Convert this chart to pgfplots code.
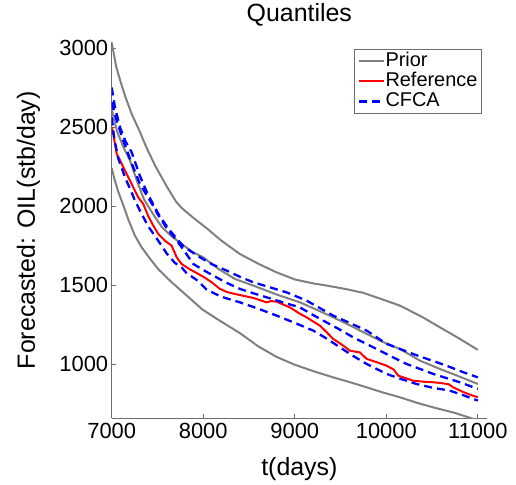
\documentclass[border=0pt]{standalone}
\usepackage{pgfplots}
\pgfplotsset{compat=1.18}
\usepackage{fontspec}
\setmainfont{Liberation Sans}
\definecolor{pgray}{RGB}{128,128,128}
\definecolor{axgray}{RGB}{110,110,110}
\begin{document}
\begin{tikzpicture}
\begin{axis}[
  name=ax,
  scale only axis,
  width=375.3bp, height=375.8bp,
  xmin=7000, xmax=11100,
  ymin=657, ymax=3036,
  axis lines=left,
  axis line style={-, draw=axgray, line width=0.8bp},
  tick align=inside,
  major tick length=4bp,
  tick style={draw=axgray, line width=0.8bp},
  xtick={7000,8000,9000,10000,11000},
  ytick={1000,1500,2000,2500,3000},
  /pgf/number format/assume math mode=true,
  scaled ticks=false,
  xticklabel style={font=\fontsize{22}{22}\selectfont, /pgf/number format/1000 sep={}, yshift=-1.5bp},
  yticklabel style={font=\fontsize{22}{22}\selectfont, /pgf/number format/1000 sep={}},
  title={Quantiles},
  title style={at={(axis description cs:0.5,1.0399)}, anchor=base, font=\fontsize{25}{25}\selectfont},
  xlabel={t(days)},
  xlabel style={at={(axis description cs:0.5,-0.153)}, anchor=base, font=\fontsize{25}{25}\selectfont},
  ylabel={Forecasted: OIL(stb/day)},
  ylabel style={at={(axis description cs:-0.2044,0.5)}, anchor=base, rotate=0, font=\fontsize{25}{25}\selectfont},
  legend style={at={(axis description cs:0.986,0.982)}, anchor=north east,
    draw=axgray, line width=0.6bp, font=\fontsize{20}{20}\selectfont,
    inner xsep=3.5bp, inner ysep=2bp, row sep=0pt,
    nodes={inner sep=0.5bp, text height=14.5bp, text depth=4.5bp}},
  legend cell align=left,
  legend image code/.code={\draw[#1] (0bp,0bp) -- (25bp,0bp);},
]
% Prior (P90, P50, P10)
\addplot[pgray, line width=2bp] coordinates {
(7000,3035) (7050,2880) (7100,2780) (7150,2690) (7220,2580) (7300,2480) (7380,2370) (7475,2255) (7600,2125) (7700,2030) (7760,1990) (7850,1945) (7930,1908) (8050,1853) (8200,1780) (8400,1696) (8600,1635) (8800,1580) (9000,1535) (9200,1510) (9350,1496) (9550,1475) (9750,1450) (9950,1410) (10150,1369) (10400,1295) (10585,1232) (10800,1160) (11000,1089)
};
\addlegendentry{Prior}
\addplot[pgray, line width=2bp, forget plot] coordinates {
(7000,2620) (7020,2560) (7060,2470) (7130,2370) (7200,2287) (7275,2160) (7350,2045) (7450,1950) (7550,1865) (7650,1810) (7764,1760) (7880,1710) (8000,1675) (8170,1600) (8346,1538) (8547,1496) (8800,1440) (9056,1390) (9250,1340) (9420,1295) (9600,1245) (9785,1190) (9960,1140) (10148,1095) (10367,1021) (10600,965) (10800,920) (11000,873)
};
\addplot[pgray, line width=2bp, forget plot] coordinates {
(7000,2240) (7030,2170) (7072,2090) (7130,2000) (7181,1915) (7254,1812) (7328,1738) (7420,1665) (7509,1600) (7650,1520) (7800,1443) (7990,1345) (8150,1285) (8401,1195) (8600,1112) (8800,1045) (9000,995) (9200,955) (9420,915) (9600,885) (9785,852) (9960,820) (10148,789) (10330,755) (10512,725) (10750,690) (10950,652) (11000,645)
};
% Reference
\addplot[red, line width=2bp] coordinates {
(7000,2500) (7017,2456) (7055,2329) (7091,2290) (7127,2245) (7218,2139) (7290,2055) (7345,2013) (7400,1935) (7450,1880) (7509,1823) (7582,1780) (7655,1749) (7710,1675) (7764,1633) (7850,1600) (7946,1570) (8020,1545) (8092,1517) (8183,1475) (8260,1455) (8346,1443) (8450,1430) (8547,1418) (8692,1390) (8740,1398) (8802,1394) (8947,1358) (9050,1320) (9129,1295) (9275,1242) (9350,1200) (9420,1158) (9520,1120) (9602,1084) (9711,1073) (9785,1032) (9900,1010) (10003,989) (10080,965) (10130,926) (10293,894) (10400,888) (10512,884) (10580,880) (10621,877) (10680,872) (10730,852) (10850,820) (10912,806) (11000,789)
};
\addlegendentry{Reference}
% CFCA (P90, P50, P10)
\addplot[blue, line width=2.3bp, dash pattern=on 8bp off 5bp] coordinates {
(7000,2750) (7036,2624) (7091,2498) (7150,2410) (7218,2340) (7309,2190) (7382,2090) (7454,2010) (7530,1930) (7637,1844) (7782,1745) (7964,1675) (8100,1630) (8256,1591) (8400,1552) (8547,1517) (8730,1485) (8911,1453) (9129,1401) (9270,1355) (9420,1306) (9600,1260) (9785,1211) (10003,1127) (10150,1095) (10293,1063) (10480,1025) (10658,989) (10830,950) (11000,915)
};
\addlegendentry{CFCA}
\addplot[blue, line width=2.3bp, dash pattern=on 8bp off 5bp, forget plot] coordinates {
(7000,2656) (7055,2540) (7127,2413) (7180,2330) (7236,2245) (7309,2139) (7380,2070) (7454,2000) (7500,1950) (7600,1860) (7700,1790) (7800,1710) (7891,1633) (8000,1595) (8110,1559) (8250,1515) (8401,1475) (8550,1447) (8692,1422) (8870,1390) (9056,1358) (9200,1310) (9348,1263) (9500,1215) (9639,1168) (9790,1125) (9930,1084) (10080,1040) (10221,1000) (10370,968) (10512,937) (10660,910) (10803,884) (11000,842)
};
\addplot[blue, line width=2.3bp, dash pattern=on 8bp off 5bp, forget plot] coordinates {
(7000,2560) (7030,2420) (7072,2300) (7110,2240) (7145,2181) (7200,2110) (7250,2040) (7309,1970) (7400,1870) (7509,1780) (7600,1700) (7690,1640) (7764,1611) (7818,1575) (7946,1525) (8037,1470) (8200,1425) (8401,1390) (8600,1350) (8802,1306) (9000,1260) (9202,1211) (9350,1160) (9493,1105) (9640,1050) (9785,1000) (10003,937) (10160,905) (10330,873) (10500,850) (10694,831) (10850,800) (11000,768)
};
\end{axis}
\path[use as bounding box] ([shift={(-111.7bp,-65.5bp)}]ax.south west) rectangle ([shift={(404.3bp,417.5bp)}]ax.south west);
\end{tikzpicture}
\end{document}
